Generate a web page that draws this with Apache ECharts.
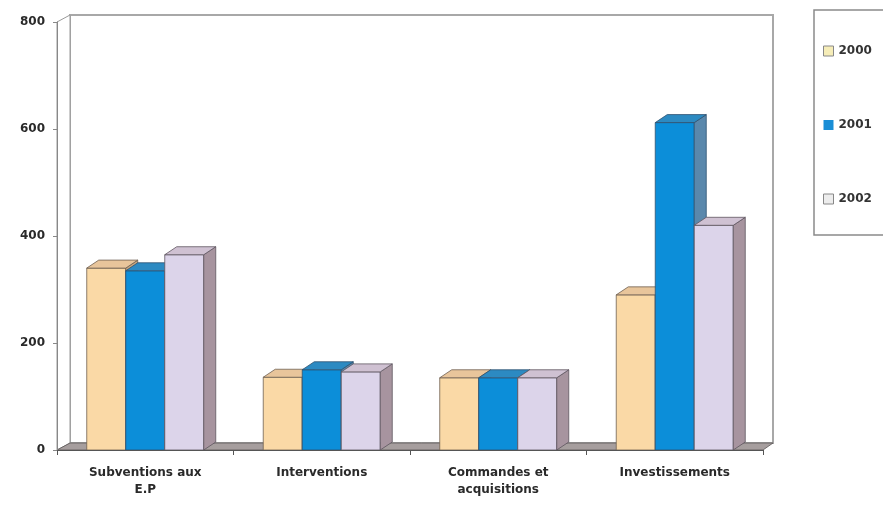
<!DOCTYPE html>
<html>
<head>
<meta charset="utf-8">
<script src="https://cdn.jsdelivr.net/npm/echarts@6/dist/echarts.min.js"></script>
<style>html,body{margin:0;padding:0;background:#fff;}#c{width:883px;height:505px;}</style>
</head>
<body>
<div id="c"></div>
<script>
const categories = ['Subventions aux\nE.P', 'Interventions', 'Commandes et\nacquisitions', 'Investissements'];
const years = ['2000', '2001', '2002'];
const values2000 = [340, 136, 135, 290];
const values2001 = [335, 150, 135, 612];
const values2002 = [365, 146, 135, 420];
const yMin = 0, yMax = 800, yStep = 200;

const seriesValues = [values2000, values2001, values2002];
const faceColors = [
  { front: '#FAD9A6', top: '#E8C59B', side: '#C9A77F', edge: '#6e6052' },
  { front: '#0C8ED9', top: '#2C8AC2', side: '#5A88AC', edge: '#2f5270' },
  { front: '#DCD4EA', top: '#CFC1D2', side: '#A7949F', edge: '#5e5560' }
];
const legendColors = ['#F6EDB8', '#1A8ED6', '#EDEDED'];
const DX = 12, DY = -8;
const FONT = 'DejaVu Sans';

function barRenderer(sIdx) {
  return function (params, api) {
    const cat = api.value(0), val = api.value(1);
    const top = api.coord([cat, val]);
    const base = api.coord([cat, 0]);
    const band = api.size([1, 0])[0];
    const bw = band * 0.221;
    const x0 = top[0] - 1.5 * bw + sIdx * bw;
    const x1 = x0 + bw;
    const yT = top[1], yB = base[1];
    const c = faceColors[sIdx];
    const st = (fill) => ({ fill: fill, stroke: c.edge, lineWidth: 0.8 });
    return {
      type: 'group',
      children: [
        { type: 'polygon', shape: { points: [[x0, yB], [x1, yB], [x1, yT], [x0, yT]] }, style: st(c.front) },
        { type: 'polygon', shape: { points: [[x1, yB], [x1 + DX, yB + DY], [x1 + DX, yT + DY], [x1, yT]] }, style: st(c.side) },
        { type: 'polygon', shape: { points: [[x0, yT], [x1, yT], [x1 + DX, yT + DY], [x0 + DX, yT + DY]] }, style: st(c.top) }
      ]
    };
  };
}

function frameRenderer(params, api) {
  const cs = params.coordSys;
  const x = cs.x, y = cs.y, w = cs.width, h = cs.height;
  const wdx = 13, wdy = -7;
  return {
    type: 'group',
    children: [
      { type: 'rect', shape: { x: x + wdx, y: y + wdy, width: w - 3, height: h },
        style: { fill: '#fff', stroke: '#a8a8a8', lineWidth: 2 } },
      { type: 'polygon', shape: { points: [[x, y], [x + wdx, y + wdy], [x + wdx, y + h + wdy], [x, y + h]] },
        style: { fill: '#fff', stroke: '#9a9a9a', lineWidth: 1 } },
      { type: 'polygon', shape: { points: [[x, y + h], [x + w, y + h], [x + w + 10, y + h + wdy], [x + wdx, y + h + wdy]] },
        style: { fill: '#A69E9E', stroke: '#5a5555', lineWidth: 0.8 } }
    ]
  };
}

const series = [{
  type: 'custom', name: 'frame', silent: true, z: 1,
  data: [[0, 0]], encode: { x: 0, y: 1 },
  renderItem: frameRenderer
}];
years.forEach((yr, i) => {
  series.push({
    type: 'custom', name: yr, z: 3,
    itemStyle: { color: faceColors[i].front },
    data: seriesValues[i].map((v, k) => [k, v]),
    encode: { x: 0, y: 1 },
    renderItem: barRenderer(i)
  });
});

const chart = echarts.init(document.getElementById('c'), null, { renderer: 'canvas' });
chart.setOption({
  animation: false,
  backgroundColor: '#fff',
  grid: { left: 57, right: 120, top: 22, bottom: 55, containLabel: false },
  xAxis: {
    type: 'category', data: categories, z: 10,
    axisLine: { show: true, lineStyle: { color: '#555', width: 1 } },
    axisTick: { show: true, length: 5, lineStyle: { color: '#555' } },
    axisLabel: { interval: 0, margin: 14, fontFamily: FONT, fontWeight: 'bold', fontSize: 12,
      color: '#2a2a2a', lineHeight: 17 },
    splitLine: { show: false }
  },
  yAxis: {
    type: 'value', min: yMin, max: yMax, interval: yStep, z: 10,
    axisLine: { show: true, lineStyle: { color: '#888', width: 1 } },
    axisTick: { show: true, length: 4, lineStyle: { color: '#888' } },
    axisLabel: { margin: 12, fontFamily: FONT, fontWeight: 'bold', fontSize: 12, color: '#2a2a2a' },
    splitLine: { show: false }
  },
  legend: {
    orient: 'vertical', left: 814, top: 10,
    padding: [35, 60, 30, 9], itemGap: 62,
    itemWidth: 10, itemHeight: 10, icon: 'rect',
    backgroundColor: '#fff', borderColor: '#8a8a8a', borderWidth: 1.5,
    textStyle: { fontFamily: FONT, fontWeight: 'bold', fontSize: 12, color: '#333' },
    data: years.map((yr, i) => ({ name: yr, itemStyle: { color: legendColors[i], borderColor: '#888', borderWidth: i === 1 ? 0 : 1 } }))
  },
  series: series
});
</script>
</body>
</html>
